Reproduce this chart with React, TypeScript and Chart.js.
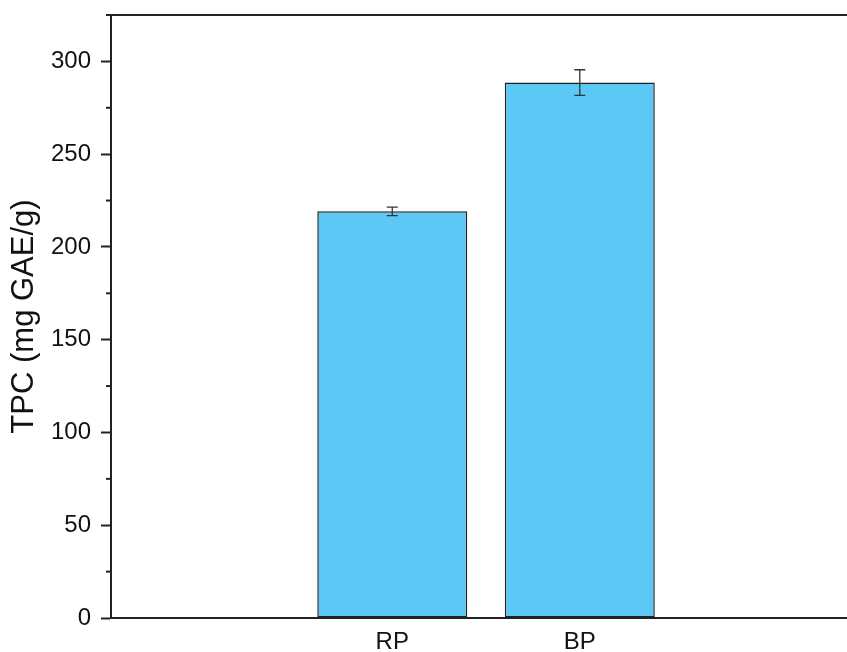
import React, { useEffect, useRef } from "react";
import { Chart, registerables } from "chart.js";

Chart.register(...registerables);

const categories = ["RP", "BP"];
const tpcValues = [219.2, 288.6];
const tpcErrors = [2.3, 6.9];
const yMajorTicks = [0, 50, 100, 150, 200, 250, 300];
const yMinorStep = 25;
const yMax = 325;
const xMax = 3.925;

const FONT = "'Liberation Sans', Arial, sans-serif";

const decorPlugin = {
  id: "decor",
  afterDatasetsDraw(chart: any) {
    const ctx = chart.ctx;
    const yScale = chart.scales.y;
    const meta = chart.getDatasetMeta(0);
    ctx.save();
    ctx.strokeStyle = "#333";
    ctx.lineWidth = 1.3;
    meta.data.forEach((bar: any, i: number) => {
      const v = tpcValues[i];
      const e = tpcErrors[i];
      const yTop = yScale.getPixelForValue(v + e);
      const yBot = yScale.getPixelForValue(v - e);
      const x = bar.x;
      const cap = 5.5;
      ctx.beginPath();
      ctx.moveTo(x, yTop);
      ctx.lineTo(x, yBot);
      ctx.moveTo(x - cap, yTop);
      ctx.lineTo(x + cap, yTop);
      ctx.moveTo(x - cap, yBot);
      ctx.lineTo(x + cap, yBot);
      ctx.stroke();
    });
    ctx.restore();
  },
  afterDraw(chart: any) {
    const ctx = chart.ctx;
    const area = chart.chartArea;
    const yScale = chart.scales.y;
    ctx.save();
    ctx.strokeStyle = "#222";
    ctx.lineWidth = 2;
    yScale.ticks.forEach((t: any) => {
      if (yMajorTicks.indexOf(t.value) === -1) {
        const y = yScale.getPixelForValue(t.value);
        ctx.beginPath();
        ctx.moveTo(area.left - 5, y);
        ctx.lineTo(area.left, y);
        ctx.stroke();
      }
    });
    ctx.beginPath();
    ctx.moveTo(area.left, area.top);
    ctx.lineTo(area.right, area.top);
    ctx.stroke();
    ctx.restore();
  },
};

export default function App() {
  const ref = useRef<HTMLCanvasElement>(null);
  useEffect(() => {
    if (!ref.current) return;
    const chart = new Chart(ref.current, {
      type: "bar",
      data: {
        datasets: [
          {
            data: categories.map((c, i) => ({ x: i + 1.5, y: tpcValues[i] })),
            backgroundColor: "#5BC8F5",
            borderColor: "#222",
            borderWidth: 1.5,
            borderSkipped: false,
            barPercentage: 0.8,
            categoryPercentage: 1,
          },
        ],
      },
      options: {
        animation: false,
        responsive: true,
        maintainAspectRatio: false,
        layout: { padding: { top: 15, right: 0, left: 0, bottom: 0 } },
        plugins: { legend: { display: false }, tooltip: { enabled: false } },
        scales: {
          x: {
            type: "linear",
            offset: false,
            min: 0,
            max: xMax,
            afterBuildTicks: (s: any) => {
              s.ticks = categories.map((_, i) => ({ value: i + 1.5 }));
            },
            afterFit: (s: any) => {
              s.height = 34;
              s.paddingLeft = 0;
              s.paddingRight = 0;
            },
            ticks: {
              autoSkip: false,
              maxRotation: 0,
              callback: (v: any) => categories[Math.round(Number(v) - 1.5)] ?? "",
              font: { family: FONT, size: 24 },
              color: "#111",
              padding: 10,
            },
            grid: { display: false, drawTicks: false },
            border: { display: true, color: "#222", width: 2 },
          },
          y: {
            min: 0,
            max: yMax,
            afterFit: (s: any) => {
              s.width = 111;
              s.paddingTop = 0;
              s.paddingBottom = 0;
            },
            ticks: {
              stepSize: yMinorStep,
              autoSkip: false,
              callback: (v: any) => (yMajorTicks.indexOf(Number(v)) !== -1 ? String(v) : ""),
              font: { family: FONT, size: 24 },
              color: "#111",
              padding: 10,
            },
            grid: {
              drawOnChartArea: false,
              tickLength: 10,
              tickWidth: 2,
              tickColor: (ctx: any) =>
                yMajorTicks.indexOf(ctx.tick?.value) !== -1 ? "#222" : "rgba(0,0,0,0)",
            },
            border: { display: true, color: "#222", width: 2 },
            title: {
              display: true,
              text: "TPC (mg GAE/g)",
              font: { family: FONT, size: 31, lineHeight: 1.2 },
              color: "#111",
              padding: { top: 6, bottom: 0 },
            },
          },
        },
      },
      plugins: [decorPlugin],
    });
    return () => chart.destroy();
  }, []);
  return (
    <div style={{ position: "absolute", left: 0, top: 0, width: 847, height: 652, background: "#fff" }}>
      <canvas ref={ref} />
    </div>
  );
}
